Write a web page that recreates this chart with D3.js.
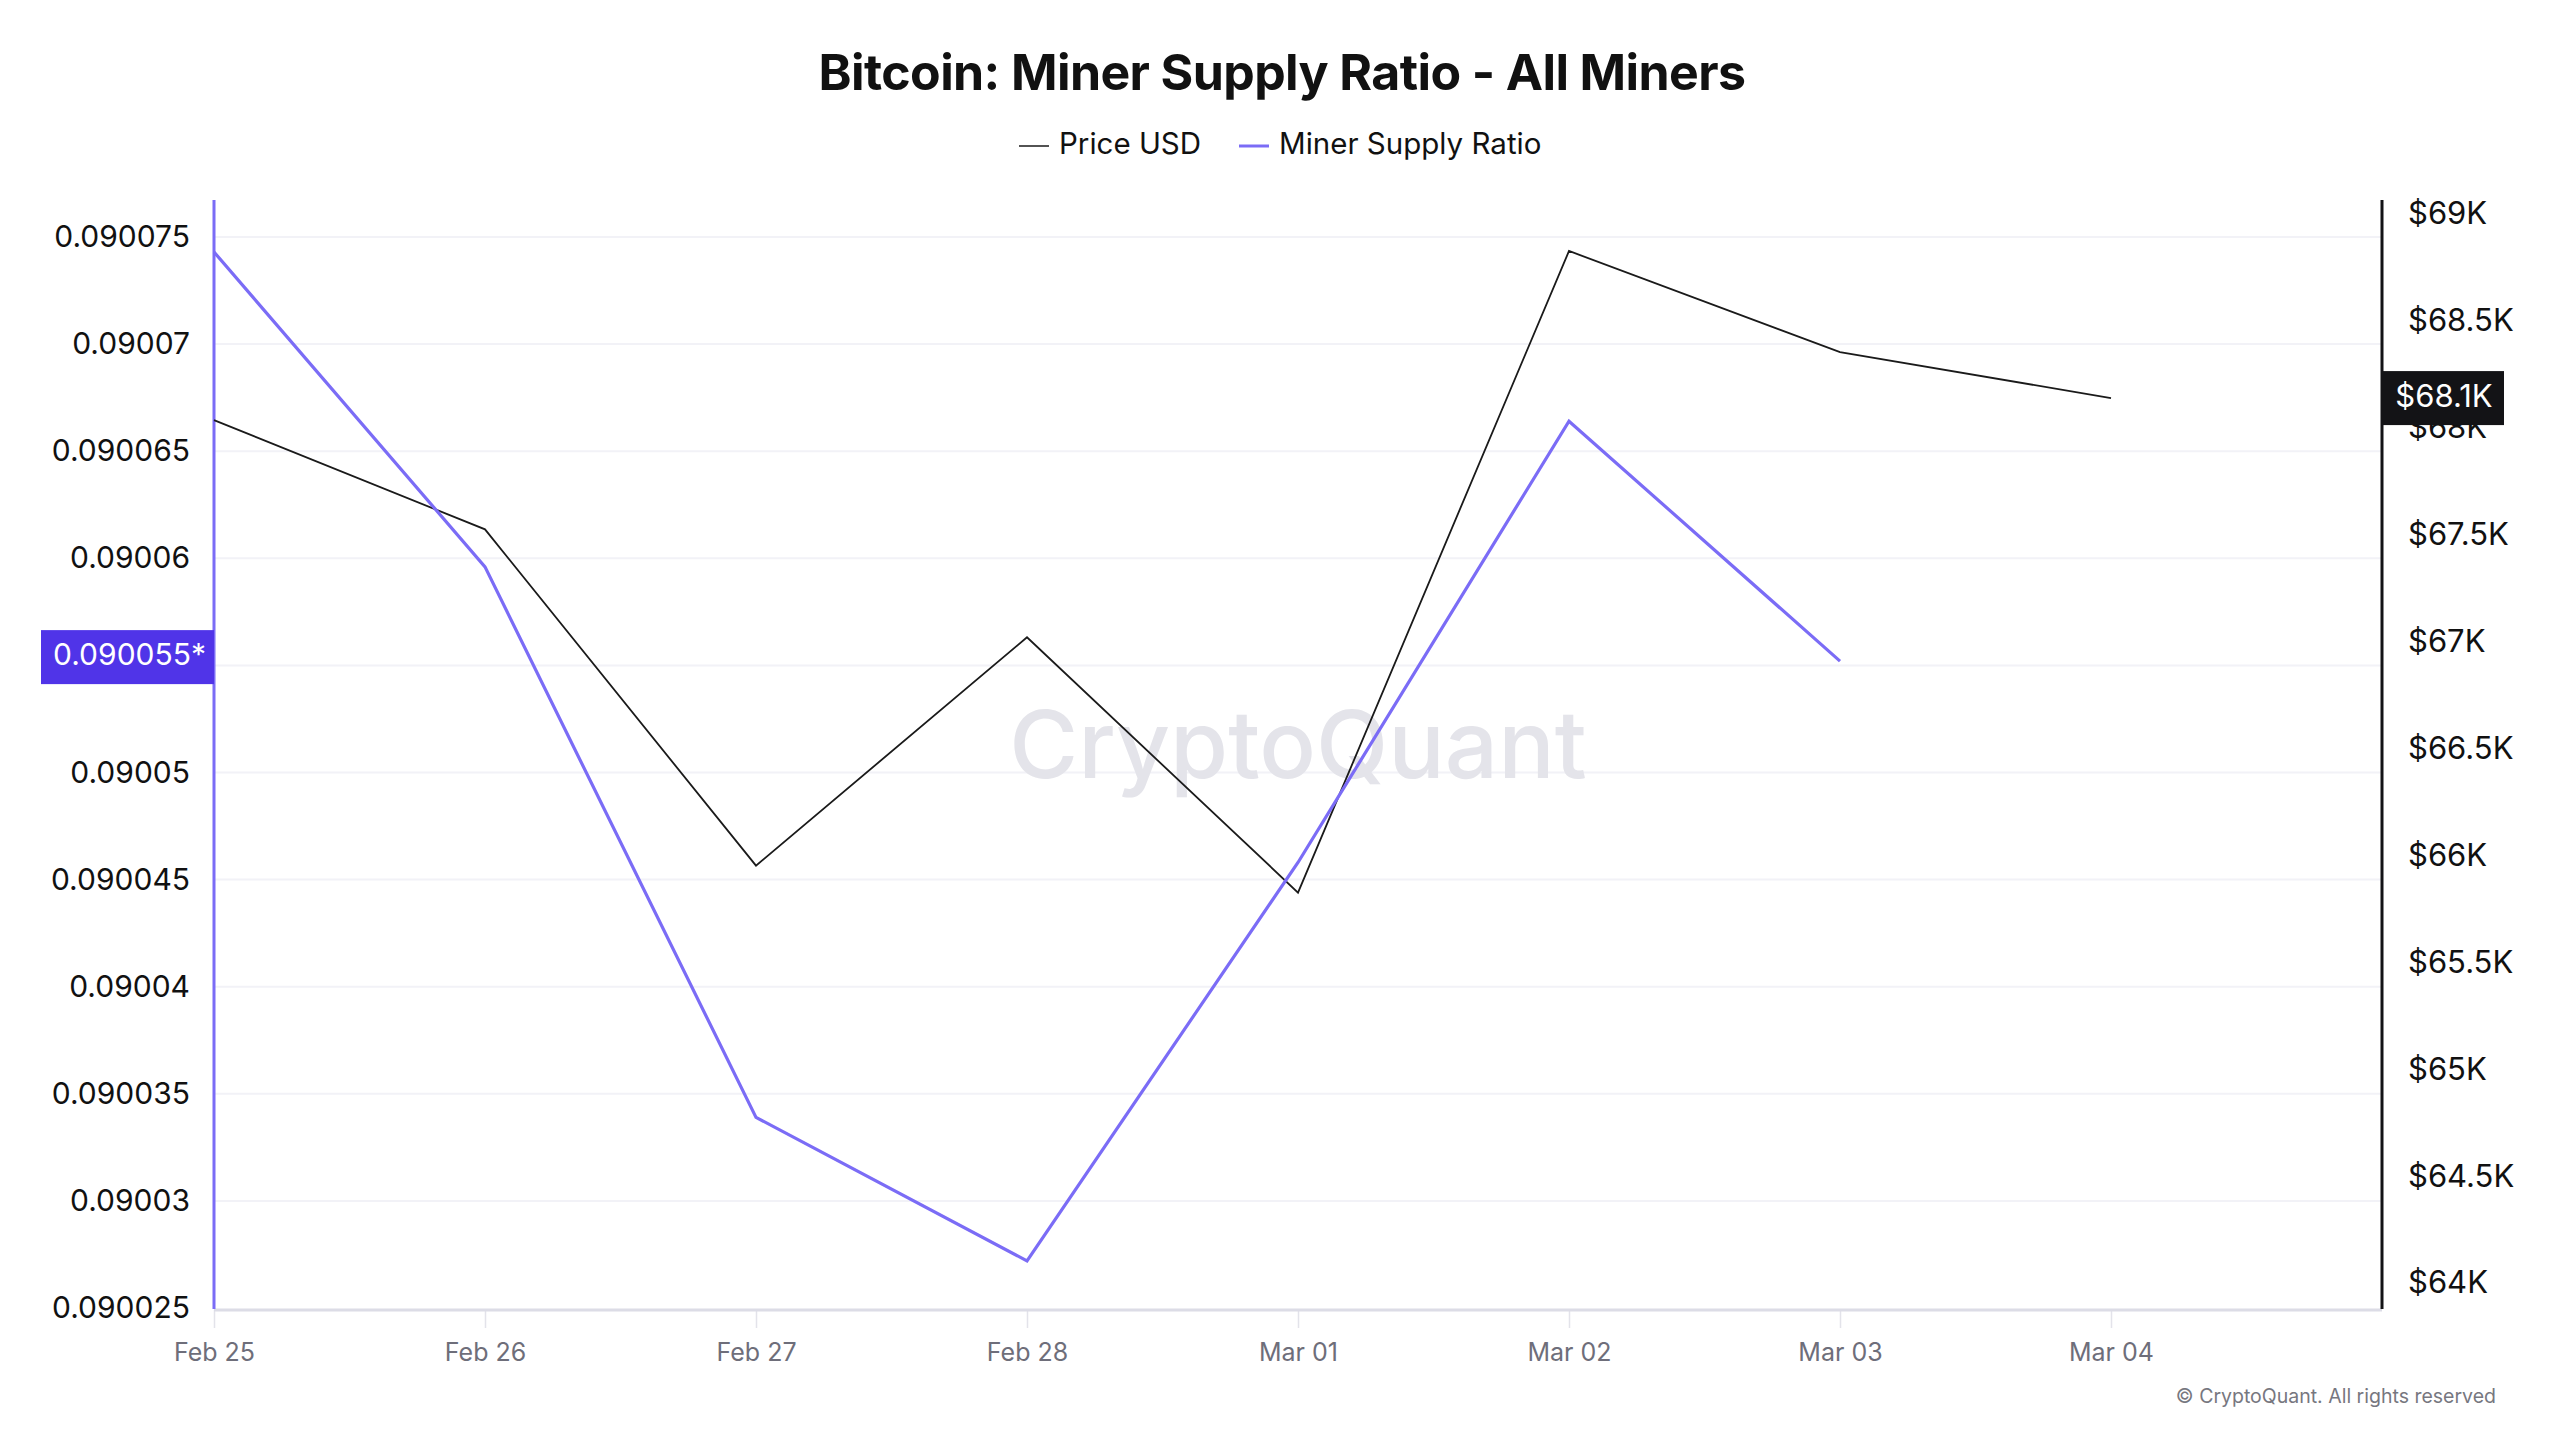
<!DOCTYPE html>
<html>
<head>
<meta charset="utf-8">
<script src="https://cdn.jsdelivr.net/npm/d3@7"></script>
<style>
  body { margin: 0; background: #ffffff; }
  text { font-family: Inter, "Noto Sans", sans-serif; }
</style>
</head>
<body>
<svg id="chart"></svg>
<script>
// values
const dates = ['2026-02-25', '2026-02-26', '2026-02-27', '2026-02-28', '2026-03-01', '2026-03-02', '2026-03-03', '2026-03-04'];
const priceUsd = [68036, 67525, 65952, 67020, 65826, 68827, 68354, 68139];
const supplyRatio = [0.0900743, 0.0900596, 0.0900339, 0.0900272, 0.0900458, 0.0900664, 0.0900552];
const ratioTicks = [0.090025, 0.09003, 0.090035, 0.09004, 0.090045, 0.09005, 0.090055, 0.09006, 0.090065, 0.09007, 0.090075];
const priceTicks = [64000, 64500, 65000, 65500, 66000, 66500, 67000, 67500, 68000, 68500, 69000];

const width = 2560;
const height = 1440;
const plotLeft = 214, plotRight = 2382, plotTop = 200, plotBottom = 1310;

const parseDate = d3.timeParse('%Y-%m-%d');
const days = dates.map(parseDate);
const fmtRatio = d => String(+d.toFixed(6));

const x = d3.scaleTime()
  .domain([days[0], d3.timeDay.offset(days[days.length - 1], 1)])
  .range([plotLeft, plotRight]);

const yRatio = d3.scaleLinear()
  .domain([0.090025, 0.090075])
  .range([1308, 237]);

const yPrice = d3.scaleLinear()
  .domain([64000, 69000])
  .range([1283, 214]);

const lastRatio = supplyRatio[supplyRatio.length - 1];
const lastPrice = priceUsd[priceUsd.length - 1];

const svg = d3.select('#chart')
  .attr('width', width)
  .attr('height', height)
  .style('background', '#fff');

// grid
svg.append('g')
  .selectAll('line')
  .data(ratioTicks.slice(1))
  .join('line')
  .attr('x1', plotLeft)
  .attr('x2', plotRight)
  .attr('y1', d => yRatio(d))
  .attr('y2', d => yRatio(d))
  .attr('stroke', '#f2f2f7')
  .attr('stroke-width', 2);

// watermark
svg.append('text')
  .attr('x', 1298)
  .attr('y', 752)
  .attr('text-anchor', 'middle')
  .attr('dominant-baseline', 'middle')
  .style('font-size', '94px')
  .style('font-weight', 500)
  .style('fill', '#e4e4ea')
  .text('CryptoQuant');

// title + legend
svg.append('text')
  .attr('x', 1282)
  .attr('y', 76)
  .attr('text-anchor', 'middle')
  .attr('dominant-baseline', 'middle')
  .style('font-size', '50px')
  .style('font-weight', 700)
  .style('fill', '#111')
  .style('letter-spacing', '-0.6px')
  .text('Bitcoin: Miner Supply Ratio - All Miners');

const legendItems = [
  {label: 'Price USD', color: '#1a1a1a', x: 1019, w: 1.5},
  {label: 'Miner Supply Ratio', color: '#7b6cf6', x: 1239, w: 3}
];
const legend = svg.append('g');
legendItems.forEach(item => {
  legend.append('line')
    .attr('x1', item.x).attr('x2', item.x + 30)
    .attr('y1', 146).attr('y2', 146)
    .attr('stroke', item.color)
    .attr('stroke-width', item.w);
  legend.append('text')
    .attr('x', item.x + 40)
    .attr('y', 146)
    .attr('dominant-baseline', 'middle')
    .style('font-size', '29.5px')
    .style('fill', '#111')
    .text(item.label);
});

// left axis (the tick under the last-value box is covered in the reference)
const leftAxis = svg.append('g')
  .attr('transform', `translate(${plotLeft},0)`)
  .call(d3.axisLeft(yRatio)
    .tickValues(ratioTicks.filter(t => Math.abs(yRatio(t) - yRatio(lastRatio)) > 30))
    .tickSize(0).tickPadding(24)
    .tickFormat(fmtRatio));
leftAxis.select('.domain').remove();
leftAxis.selectAll('text')
  .style('font-size', '30px')
  .style('fill', '#111')
  .style('font-family', 'Inter, "Noto Sans", sans-serif');

// right axis
const rightAxis = svg.append('g')
  .attr('transform', `translate(${plotRight},0)`)
  .call(d3.axisRight(yPrice).tickValues(priceTicks).tickSize(0).tickPadding(26)
    .tickFormat(d => '$' + (d / 1000) + 'K'));
rightAxis.select('.domain').remove();
rightAxis.selectAll('text')
  .style('font-size', '31px')
  .style('fill', '#111')
  .style('font-family', 'Inter, "Noto Sans", sans-serif');

// bottom axis
const bottomAxis = svg.append('g')
  .attr('transform', `translate(0,${plotBottom})`)
  .call(d3.axisBottom(x).tickValues(days).tickSize(18).tickPadding(15)
    .tickFormat(d3.timeFormat('%b %d')));
bottomAxis.select('.domain').remove();
bottomAxis.selectAll('line').attr('stroke', '#e3e3ea').attr('stroke-width', 1.5);
bottomAxis.selectAll('text')
  .style('font-size', '25px')
  .style('fill', '#6e6e7a')
  .style('font-family', 'Inter, "Noto Sans", sans-serif');

svg.append('line')
  .attr('x1', plotLeft).attr('x2', plotRight)
  .attr('y1', plotBottom).attr('y2', plotBottom)
  .attr('stroke', '#dcdce6')
  .attr('stroke-width', 3);

svg.append('line')
  .attr('x1', plotLeft).attr('x2', plotLeft)
  .attr('y1', plotTop).attr('y2', plotBottom - 1)
  .attr('stroke', '#7b6cf6')
  .attr('stroke-width', 3);

svg.append('line')
  .attr('x1', plotRight).attr('x2', plotRight)
  .attr('y1', plotTop).attr('y2', plotBottom - 1)
  .attr('stroke', '#131316')
  .attr('stroke-width', 3);

// series
const priceLine = d3.line()
  .x((d, i) => x(days[i]))
  .y(d => yPrice(d));

const ratioLine = d3.line()
  .x((d, i) => x(days[i]))
  .y(d => yRatio(d));

svg.append('path')
  .datum(priceUsd)
  .attr('d', priceLine)
  .attr('fill', 'none')
  .attr('stroke', '#1a1a1a')
  .attr('stroke-width', 1.8);

svg.append('path')
  .datum(supplyRatio)
  .attr('d', ratioLine)
  .attr('fill', 'none')
  .attr('stroke', '#7b6cf6')
  .attr('stroke-width', 3.2);

// last value markers
const ry = yRatio(lastRatio) - 4;
svg.append('rect')
  .attr('x', 41).attr('y', ry - 27)
  .attr('width', plotLeft - 41).attr('height', 54)
  .attr('fill', '#5034e8');
svg.append('text')
  .attr('x', 206).attr('y', ry)
  .attr('text-anchor', 'end')
  .attr('dominant-baseline', 'middle')
  .style('font-size', '30px')
  .style('fill', '#fff')
  .text(fmtRatio(lastRatio) + '*');

const py = yPrice(lastPrice);
svg.append('rect')
  .attr('x', plotRight + 1).attr('y', py - 27)
  .attr('width', 121).attr('height', 54)
  .attr('fill', '#131316');
svg.append('text')
  .attr('x', plotRight + 62).attr('y', py)
  .attr('text-anchor', 'middle')
  .attr('dominant-baseline', 'middle')
  .style('font-size', '31px')
  .style('fill', '#fff')
  .text('$' + (lastPrice / 1000).toFixed(1) + 'K');

// footer
svg.append('text')
  .attr('x', 2496)
  .attr('y', 1398)
  .attr('text-anchor', 'end')
  .attr('dominant-baseline', 'middle')
  .style('font-size', '19.5px')
  .style('fill', '#77777f')
  .text('© CryptoQuant. All rights reserved');
</script>
</body>
</html>
